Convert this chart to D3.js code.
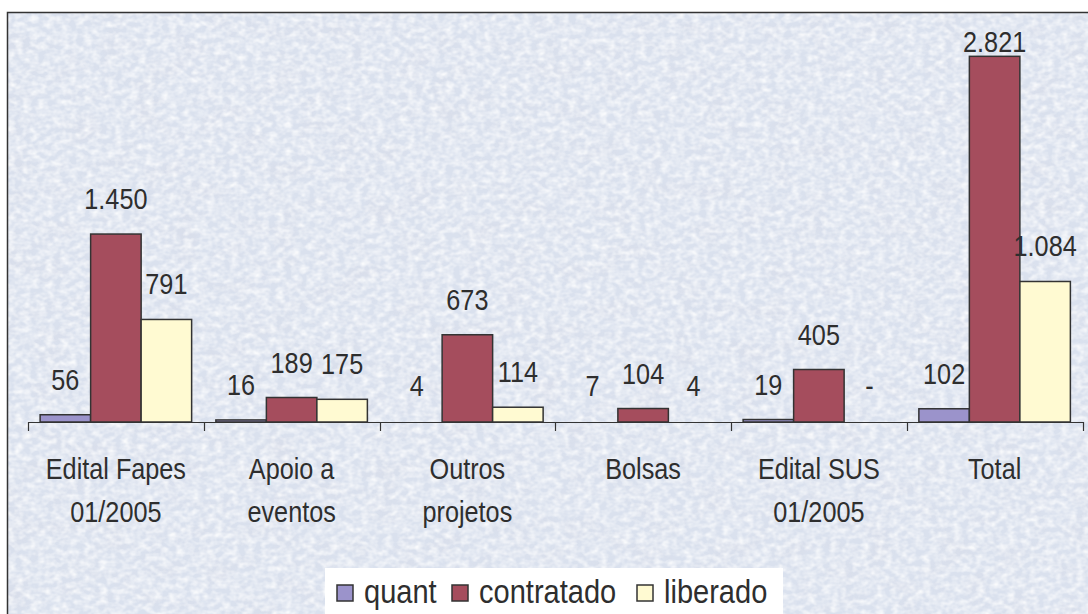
<!DOCTYPE html>
<html>
<head>
<meta charset="utf-8">
<script src="https://cdn.jsdelivr.net/npm/d3@7"></script>
<style>
  body { margin: 0; background: #fff; }
  svg text { font-family: "Liberation Sans", Arial, sans-serif; fill: #2e2e2e; }
</style>
</head>
<body>
<div id="chart"></div>
<script>
// data
var categories = [["Edital Fapes", "01/2005"], ["Apoio a", "eventos"], ["Outros", "projetos"], ["Bolsas"], ["Edital SUS", "01/2005"], ["Total"]];
var seriesNames = ["quant", "contratado", "liberado"];
var quant = [56, 16, 4, 7, 19, 102];
var contratado = [1450, 189, 673, 104, 405, 2821];
var liberado = [791, 175, 114, 4, 0, 1084];
var seriesColors = ["#9b93cb", "#a54d5d", "#fffad2"];

var W = 1088, H = 614;
var narrow = 0.87; // the original font is a condensed sans
var svg = d3.select("#chart").append("svg").attr("width", W).attr("height", H);

// marble-ish background texture
var defs = svg.append("defs");
var f = defs.append("filter").attr("id", "marble").attr("x", 0).attr("y", 0).attr("width", 1).attr("height", 1);
f.append("feTurbulence").attr("type", "fractalNoise").attr("baseFrequency", "0.13 0.18").attr("numOctaves", 2).attr("seed", 4).attr("result", "n");
f.append("feColorMatrix").attr("in", "n").attr("type", "matrix")
  .attr("values", "0 0 0 0 1  0 0 0 0 1  0 0 0 0 1  1.8 0 0 0 -0.6");
var f2 = defs.append("filter").attr("id", "marble2").attr("x", 0).attr("y", 0).attr("width", 1).attr("height", 1);
f2.append("feTurbulence").attr("type", "fractalNoise").attr("baseFrequency", "0.03 0.05").attr("numOctaves", 3).attr("seed", 9).attr("result", "n");
f2.append("feColorMatrix").attr("in", "n").attr("type", "matrix")
  .attr("values", "0 0 0 0 0.68  0 0 0 0 0.68  0 0 0 0 0.76  0 1.6 0 0 -0.72");

var px0 = 7, py0 = 12;
svg.append("rect").attr("x", px0).attr("y", py0).attr("width", W - px0).attr("height", H - py0).attr("fill", "#dae1ee");
svg.append("rect").attr("x", px0).attr("y", py0).attr("width", W - px0).attr("height", H - py0).attr("filter", "url(#marble2)").attr("opacity", 0.4);
svg.append("rect").attr("x", px0).attr("y", py0).attr("width", W - px0).attr("height", H - py0).attr("filter", "url(#marble)").attr("opacity", 0.85);
svg.append("path").attr("d", "M" + (px0 + 0.5) + "," + H + "V" + (py0 + 0.5) + "H" + W)
  .attr("fill", "none").attr("stroke", "#333").attr("stroke-width", 1.5);

var x0 = d3.scaleBand().domain(d3.range(categories.length)).range([28, 1082.5]);
var x1 = d3.scaleBand().domain(seriesNames).range([0, x0.bandwidth()]).paddingOuter(0.24);
var y = d3.scaleLinear().domain([0, 3163]).range([422, 12]);

var series = [quant, contratado, liberado];
var rows = [];
series.forEach(function (vals, s) {
  vals.forEach(function (v, i) {
    rows.push({ cat: i, s: s, name: seriesNames[s], v: v });
  });
});

// bars thinner than a pixel are not drawn, as in the original
svg.append("g").selectAll("rect").data(rows.filter(function (d) { return y(0) - y(d.v) >= 1.5; })).enter().append("rect")
  .attr("x", function (d) { return x0(d.cat) + x1(d.name); })
  .attr("y", function (d) { return y(d.v); })
  .attr("width", x1.bandwidth())
  .attr("height", function (d) { return y(0) - y(d.v); })
  .attr("fill", function (d) { return seriesColors[d.s]; })
  .attr("stroke", "#333").attr("stroke-width", 1.5);

// axis
var axis = svg.append("g").attr("transform", "translate(0,422)")
  .call(d3.axisBottom(x0).tickSize(0).tickFormat(""));
axis.select(".domain").attr("stroke", "#333").attr("stroke-width", 1.2);
axis.selectAll(".bound").data(d3.range(categories.length + 1)).enter().append("line")
  .attr("x1", function (i) { return Math.round(x0.range()[0] + i * x0.step()) + 0.5; })
  .attr("x2", function (i) { return Math.round(x0.range()[0] + i * x0.step()) + 0.5; })
  .attr("y1", 0).attr("y2", 9).attr("stroke", "#333").attr("stroke-width", 1.2);

// category labels
var catLab = svg.append("g").selectAll("text").data(categories).enter().append("text")
  .attr("transform", function (d, i) { return "translate(" + (x0(i) + x0.bandwidth() / 2) + ",479) scale(" + narrow + ",1)"; })
  .attr("text-anchor", "middle")
  .style("font-size", "29px");
catLab.selectAll("tspan").data(function (d) { return d; }).enter().append("tspan")
  .attr("x", 0)
  .attr("dy", function (d, j) { return j === 0 ? 0 : 43; })
  .text(function (d) { return d; });

// value labels
var fmt = function (v) { return v === 0 ? "-" : d3.format(",")(v).replace(/,/g, "."); };
svg.append("g").selectAll("text").data(rows).enter().append("text")
  .attr("transform", function (d) {
    var lx = x0(d.cat) + x1(d.name) + x1.bandwidth() / 2;
    var ly = Math.max(Math.min(y(d.v) - 35, 386), 42) + 10;
    return "translate(" + lx + "," + ly + ") scale(" + narrow + ",1)";
  })
  .attr("text-anchor", "middle")
  .style("font-size", "29px")
  .text(function (d) { return fmt(d.v); });

// legend
var lg = svg.append("g");
lg.append("rect").attr("x", 325).attr("y", 568).attr("width", 458).attr("height", 50).attr("fill", "#fff");
var lx = [337, 452, 637];
var items = lg.selectAll("g").data(seriesNames).enter().append("g")
  .attr("transform", function (d, i) { return "translate(" + lx[i] + ",585)"; });
items.append("rect").attr("width", 16).attr("height", 16)
  .attr("fill", function (d, i) { return seriesColors[i]; })
  .attr("stroke", "#333").attr("stroke-width", 1.5);
items.append("text").attr("transform", "translate(27,18) scale(0.88,1)")
  .style("font-size", "33px").text(function (d) { return d; });
</script>
</body>
</html>
